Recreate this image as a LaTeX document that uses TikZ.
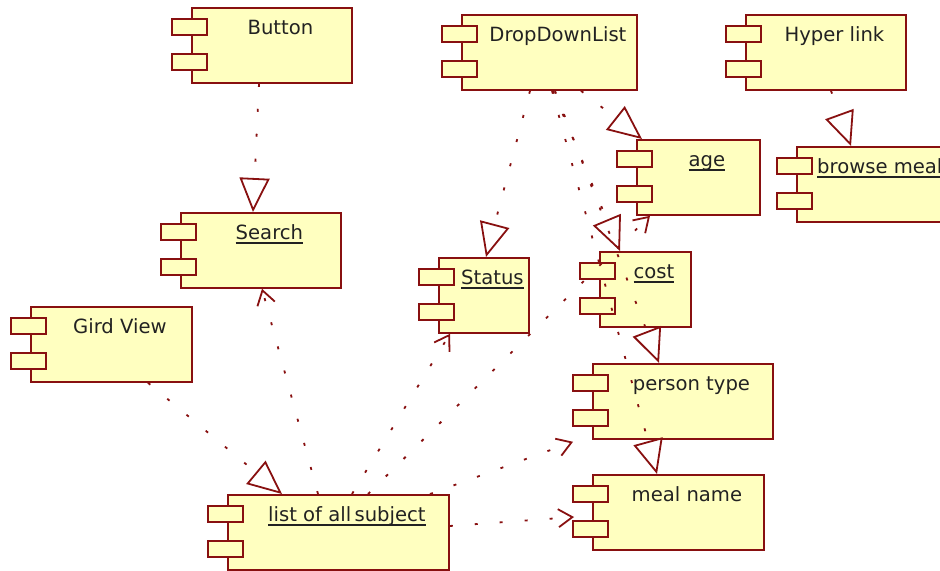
\documentclass[tikz,border=0pt]{standalone}
\usepackage{fontspec}
\newfontfamily\compfont{DejaVu Sans}
\usetikzlibrary{arrows.meta,calc}
\definecolor{compred}{RGB}{136,16,16}
\definecolor{compfill}{RGB}{255,255,192}
\definecolor{comptext}{RGB}{34,34,34}
\newcommand{\compul}[1]{\setbox0\hbox{#1}\rlap{\rule[-2pt]{\wd0}{0.9pt}}\box0}

\begin{document}
\begin{tikzpicture}[
  x=0.5pt,
  y=-0.5pt,
  comp/.style={draw=compred, line width=0.9pt, fill=compfill, anchor=north west, minimum width=#1, minimum height=37.5pt, inner xsep=0pt, inner ysep=0pt, text height=13.5pt, text depth=24pt, text=comptext, font=\compfont\fontsize{9.8}{12}\selectfont, execute at begin node=\hspace*{8.5pt}},
  tab/.style={draw=compred, line width=0.9pt, fill=compfill},
  dots/.style={draw=compred, line width=0.9pt, dash pattern=on 1.5pt off 11pt},
  real/.style={dots, -{Triangle[open, length=17pt, width=15pt, line width=0.9pt]}},
  dep/.style={dots, -{Straight Barb[length=7pt, width=9pt, line width=0.9pt]}}
]
\path[use as bounding box, clip] (0,0) rectangle (940,571);

\node[comp=80pt] (button) at (191,7) {Button};
\node[comp=87.5pt] (dropdown) at (461,14) {DropDownList};
\node[comp=80pt] (hyper) at (745,14) {Hyper link};
\node[comp=61.5pt] (age) at (636,139) {\compul{age}};
\node[comp=79.5pt] (browse) at (796,146) {\compul{browse meals}};
\node[comp=80pt] (search) at (180,212) {\compul{Search}};
\node[comp=45pt] (status) at (438,257) {\compul{Status}};
\node[comp=45.5pt] (cost) at (599,251) {\compul{cost}};
\node[comp=80.5pt] (gird) at (30,306) {Gird View};
\node[comp=90pt] (person) at (592,363) {person type};
\node[comp=85.5pt] (meal) at (592,474) {meal name};
\node[comp=110.5pt] (list) at (227,494) {\compul{list of all\,subject}};

\foreach \n in {button,dropdown,hyper,age,browse,search,status,cost,gird,person,meal,list} {
  \draw[tab] ($(\n.north west)+(-19,12)$) rectangle ++(35,16);
  \draw[tab] ($(\n.north west)+(-19,47)$) rectangle ++(35,16);
}

\draw[real] ($(button.south west)+(68,0)$) -- ($(search.north west)+(73,0)$);
\draw[real] ($(dropdown.south west)+(120,0)$) -- ($(age.north west)+(6,0)$);
\draw[real] ($(hyper.south west)+(86,0)$) -- ($(browse.north west)+(55,0)$);
\draw[real] ($(dropdown.south west)+(69,0)$) -- ($(status.north west)+(48,0)$);
\draw[real] ($(dropdown.south west)+(92,0)$) -- ($(cost.north west)+(21,0)$);
\draw[real] ($(dropdown.south west)+(94,0)$) -- ($(person.north west)+(67,0)$);
\draw[real] ($(dropdown.south west)+(91,0)$) -- ($(meal.north west)+(65,0)$);
\draw[real] ($(gird.south west)+(118,0)$) -- ($(list.north west)+(55,0)$);

\draw[dep] ($(list.north west)+(91,0)$) -- ($(search.south west)+(82,0)$);
\draw[dep] ($(list.north west)+(125,0)$) -- ($(status.south west)+(12,0)$);
\draw[dep] ($(list.north west)+(141,0)$) -- ($(age.south west)+(14,0)$);
\draw[dep] ($(list.north west)+(203,0)$) -- ($(person.south west)+(-19,2)$);
\draw[dep] ($(list.north east)+(0,32)$) -- ($(meal.north west)+(-18,43)$);

\end{tikzpicture}
\end{document}
